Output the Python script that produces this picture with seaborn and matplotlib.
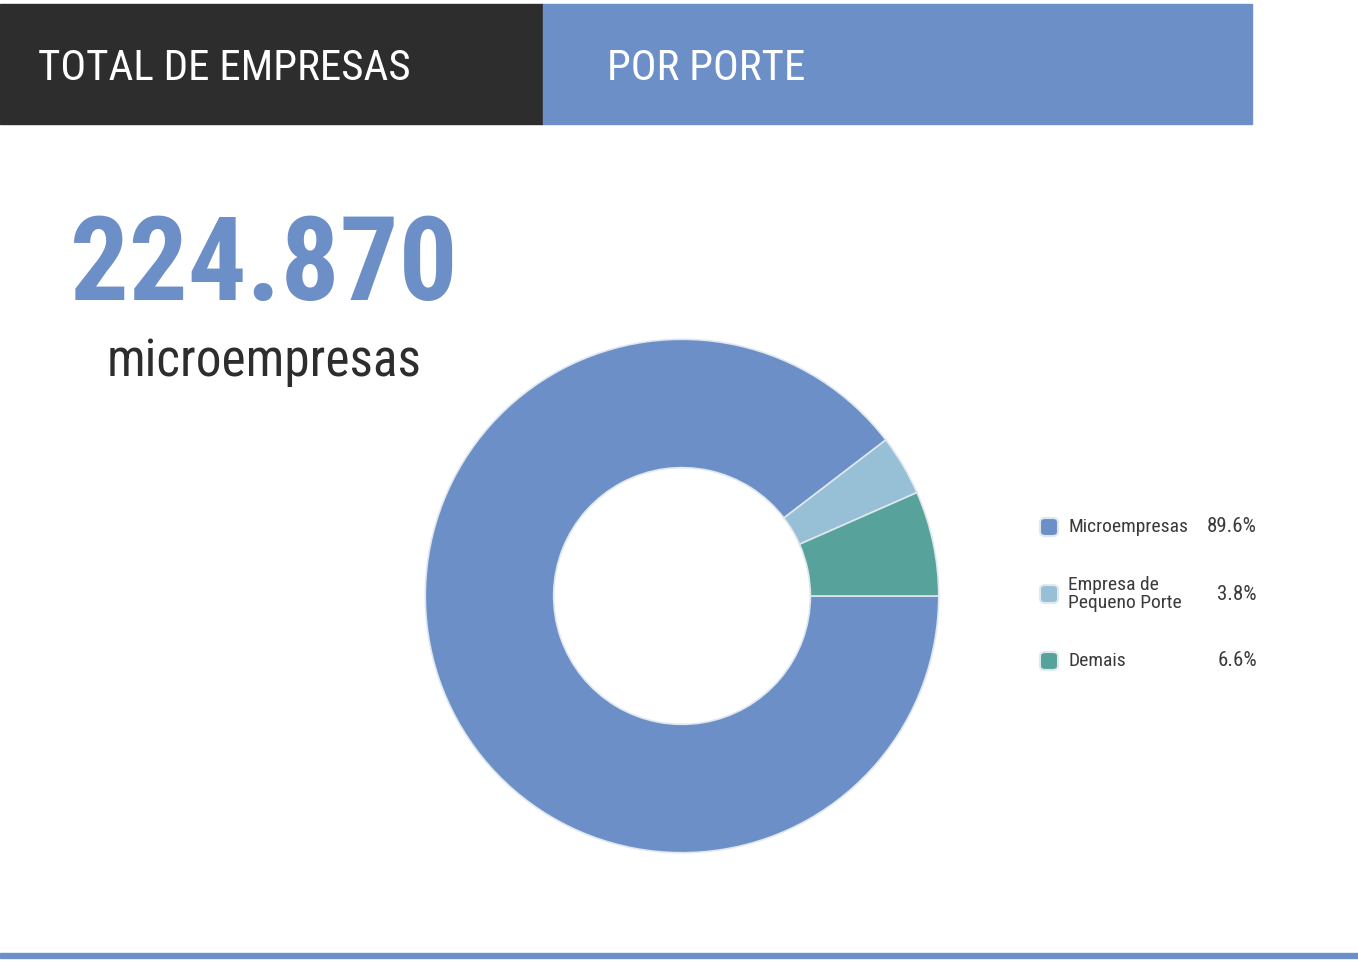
import matplotlib
matplotlib.use("Agg")
import matplotlib.pyplot as plt
from matplotlib import font_manager
from matplotlib.patches import Rectangle, FancyBboxPatch
import seaborn as sns

# data
labels = ["Microempresas", "Empresa de\nPequeno Porte", "Demais"]
shares = [89.6, 3.8, 6.6]
colors = ["#6d8fc8", "#97bfd6", "#57a39c"]
total_micro = "224.870"
header_left = "TOTAL DE EMPRESAS"
header_right = "POR PORTE"
subtitle = "microempresas"

sns.set_theme(style="white")

# pick a narrow font if one is installed
names = {f.name for f in font_manager.fontManager.ttflist}
narrow = "DejaVu Sans"
for cand in ["Liberation Sans Narrow", "Roboto Condensed", "Open Sans Condensed",
             "DejaVu Sans Condensed"]:
    if cand in names:
        narrow = cand
        break
plt.rcParams["font.family"] = [narrow, "DejaVu Sans"]

W, H = 1358, 967
fig = plt.figure(figsize=(W / 100, H / 100), dpi=100)
fig.patch.set_facecolor("white")


def fx(px):
    return px / W


def fy(py):
    return 1 - py / H


# header boxes
fig.patches.append(Rectangle((0, fy(124)), fx(543), fy(4) - fy(124),
                             transform=fig.transFigure, color="#2d2d2d", zorder=0))
fig.patches.append(Rectangle((fx(543), fy(124)), fx(1252 - 543), fy(4) - fy(124),
                             transform=fig.transFigure, color=colors[0], zorder=0))
fig.text(fx(38), fy(80), header_left, color="white", fontsize=31,
         va="baseline", ha="left")
fig.text(fx(607), fy(80), header_right, color="white", fontsize=31,
         va="baseline", ha="left")

# bottom rule
fig.patches.append(Rectangle((0, fy(958)), 1, fy(953) - fy(958),
                             transform=fig.transFigure, color=colors[0], zorder=0))

# big number
fig.text(fx(264), fy(300), total_micro, color=colors[0], fontsize=84,
         fontweight="bold", ha="center", va="baseline")
fig.text(fx(264), fy(376), subtitle, color="#2d2d2d", fontsize=37,
         ha="center", va="baseline")

# donut
ax = fig.add_axes([fx(424), fy(854), fx(940) - fx(424), fy(338) - fy(854)])
ax.pie(shares, colors=colors, startangle=0, counterclock=False, radius=1,
       wedgeprops=dict(width=0.5, edgecolor="#dfe7ef", linewidth=1.2))
ax.set_xlim(-1.005, 1.005)
ax.set_ylim(-1.005, 1.005)
ax.set_aspect("equal")
ax.axis("off")

# legend
rows_y = [527, 594, 661]
for lab, val, col, yy in zip(labels, shares, colors, rows_y):
    fig.patches.append(FancyBboxPatch((fx(1040), fy(yy + 9)), fx(18), fy(yy - 9) - fy(yy + 9),
                                      boxstyle="round,pad=0,rounding_size=0.004",
                                      transform=fig.transFigure, facecolor=col,
                                      edgecolor="#dfe7ef", linewidth=1.5))
    fig.text(fx(1068), fy(yy), lab, color="#3a3a3a", fontsize=14,
             ha="left", va="center", linespacing=0.95)
    fig.text(fx(1257), fy(yy), f"{val:.1f}%", color="#3a3a3a", fontsize=15,
             ha="right", va="center")

fig.savefig("out.png", dpi=100, facecolor="white")
